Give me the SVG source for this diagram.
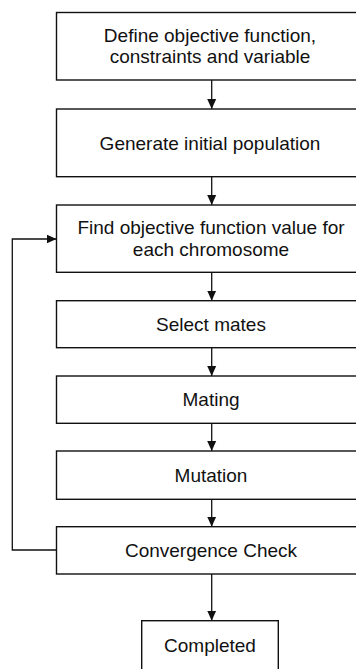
<svg xmlns="http://www.w3.org/2000/svg" width="356" height="669" viewBox="0 0 356 669">
<defs>
<style>
.box{fill:#fff;stroke:#111;stroke-width:1.4}
.t{font-family:"Liberation Sans",Arial,sans-serif;font-size:19px;fill:#111;text-anchor:middle}
.c{fill:none;stroke:#111;stroke-width:1.3}
</style>
<marker id="ah" markerWidth="10" markerHeight="10" viewBox="0 0 10 10" refX="10" refY="5" orient="auto" markerUnits="userSpaceOnUse">
<path d="M0,0.5 L10,5 L0,9.5 Z" fill="#111"/>
</marker>
</defs>
<rect width="356" height="669" fill="#fff"/>
<g id="connectors">
<line class="c" x1="211.7" y1="80" x2="211.7" y2="109" marker-end="url(#ah)"/>
<line class="c" x1="211.7" y1="176.7" x2="211.7" y2="205" marker-end="url(#ah)"/>
<line class="c" x1="211.7" y1="272.3" x2="211.7" y2="300.7" marker-end="url(#ah)"/>
<line class="c" x1="211.7" y1="347.7" x2="211.7" y2="376" marker-end="url(#ah)"/>
<line class="c" x1="211.7" y1="423.3" x2="211.7" y2="451" marker-end="url(#ah)"/>
<line class="c" x1="211.7" y1="499.3" x2="211.7" y2="526.7" marker-end="url(#ah)"/>
<line class="c" x1="211.7" y1="574" x2="211.7" y2="620.7" marker-end="url(#ah)"/>
<polyline class="c" points="56.5,550 12.3,550 12.3,239 56.5,239" marker-end="url(#ah)"/>
</g>
<g id="n1"><rect class="box" x="56.5" y="12.5" width="310" height="67.5"/>
<text class="t" x="210" y="41.7">Define objective function,</text>
<text class="t" x="210" y="63.3">constraints and variable</text></g>
<g id="n2"><rect class="box" x="56.5" y="109" width="310" height="67.7"/>
<text class="t" x="210" y="149.5">Generate initial population</text></g>
<g id="n3"><rect class="box" x="56.5" y="205" width="310" height="67.3"/>
<text class="t" x="211" y="234.2">Find objective function value for</text>
<text class="t" x="211" y="255.8">each chromosome</text></g>
<g id="n4"><rect class="box" x="56.5" y="300.7" width="310" height="47"/>
<text class="t" x="211" y="330.8">Select mates</text></g>
<g id="n5"><rect class="box" x="56.5" y="376" width="310" height="47.3"/>
<text class="t" x="211" y="406.3">Mating</text></g>
<g id="n6"><rect class="box" x="56.5" y="451" width="310" height="48.3"/>
<text class="t" x="211" y="481.8">Mutation</text></g>
<g id="n7"><rect class="box" x="56.5" y="526.7" width="310" height="47.3"/>
<text class="t" x="211" y="557">Convergence Check</text></g>
<g id="n8"><rect class="box" x="141.7" y="620.7" width="136.6" height="60"/>
<text class="t" x="210" y="652">Completed</text></g>
</svg>
